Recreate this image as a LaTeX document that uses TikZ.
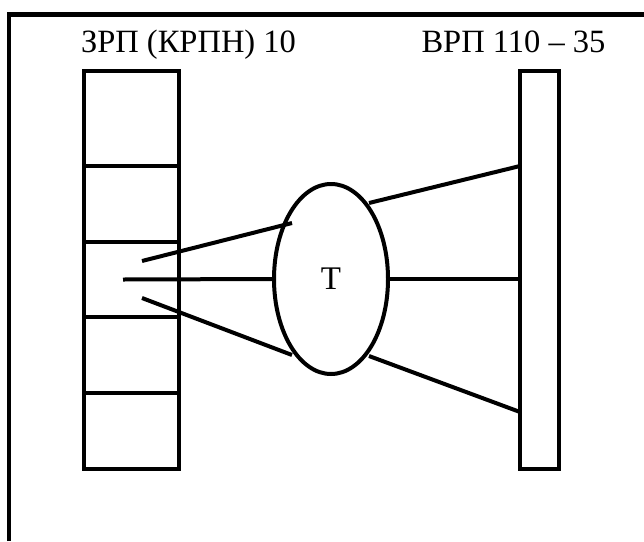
\documentclass[tikz,border=0pt]{standalone}
\usepackage{fontspec}
\setmainfont{Liberation Serif}
\usetikzlibrary{shapes.geometric}
\begin{document}
\begin{tikzpicture}[x=1pt,y=-1pt,line width=4pt,
  cell/.style={draw,line width=4pt,minimum width=95pt,inner sep=0pt,outer sep=0pt},
  lbl/.style={font=\fontsize{32.5}{38}\selectfont,anchor=base,inner sep=0pt},
  wire/.style={draw,line width=4pt}]
\useasboundingbox (0,0) rectangle (644,541);
\draw[line width=4.5pt] (9,541) -- (9,14.5) -- (644,14.5);
% labels
\node[lbl] (t1) at (188.5,52) {ЗРП (КРПН) 10};
\node[lbl] (t2) at (513.5,52) {ВРП 110 – 35};
% left column
\node[cell,minimum height=95pt] (c1) at (131.5,118.5) {};
\node[cell,minimum height=76pt] (c2) at (131.5,204) {};
\node[cell,minimum height=75pt] (c3) at (131.5,279.5) {};
\node[cell,minimum height=76pt] (c4) at (131.5,355) {};
\node[cell,minimum height=76pt] (c5) at (131.5,431) {};
% right column
\node[draw,line width=4pt,minimum width=39pt,minimum height=398pt,inner sep=0pt,outer sep=0pt] (R) at (539.5,270) {};
% transformer
\node[draw,ellipse,line width=4pt,minimum width=114pt,minimum height=190pt,inner sep=0pt,outer sep=0pt,font=\fontsize{33}{38}\selectfont] (T) at (331,279) {T};
% connection points
\coordinate (a1) at (142,261);
\coordinate (a2) at (123,279.5);
\coordinate (a3) at (142,298);
\coordinate (e1) at (292,223);
\coordinate (e3) at (292,355);
\coordinate (b1) at (369,203);
\coordinate (b3) at (369,356);
\coordinate (r1) at (520,166);
\coordinate (r3) at (520,412);
\draw[wire] (a1) -- (e1);
\draw[wire] (a2) -- (T.west);
\draw[wire] (a3) -- (e3);
\draw[wire] (b1) -- (r1);
\draw[wire] (T.east) -- (T.east -| R.west);
\draw[wire] (b3) -- (r3);
\end{tikzpicture}
\end{document}
